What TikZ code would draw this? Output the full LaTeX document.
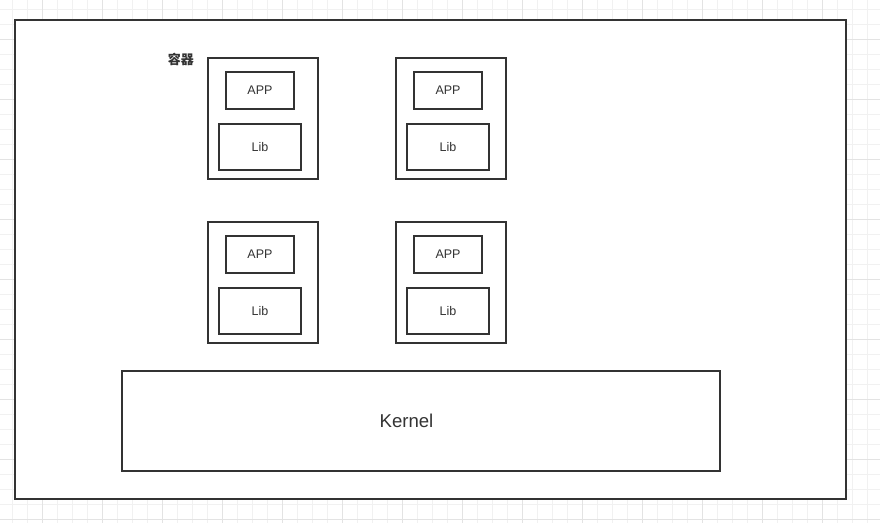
\documentclass[tikz,border=0pt]{standalone}
\usepackage{fontspec}
\setmainfont{Liberation Sans}
\newfontfamily\cjkfont{Noto Sans CJK SC}
\usetikzlibrary{positioning}
\definecolor{linegray}{HTML}{333333}
\definecolor{gridminor}{HTML}{F1F1F1}
\definecolor{gridmajor}{HTML}{E3E3E3}
\tikzset{
	box/.style={draw=linegray, line width=2pt, fill=white, inner sep=0pt, text=linegray},
	container/.style={box, minimum width=110pt, minimum height=121pt},
	appbox/.style={box, minimum width=68pt, minimum height=37pt, font=\fontsize{12.5}{14}\selectfont},
	libbox/.style={box, minimum width=82pt, minimum height=46pt, font=\fontsize{12.5}{14}\selectfont},
	kernelbox/.style={box, minimum width=598pt, minimum height=100pt},
	kerneltext/.style={inner sep=0pt, text=linegray, font=\fontsize{18.6}{21}\selectfont},
	cjklabel/.style={inner sep=0pt, text=linegray, font=\cjkfont\bfseries\fontsize{13}{15}\selectfont}
}
\begin{document}
\begin{tikzpicture}[x=1pt, y=-1pt]
	\useasboundingbox (0,0) rectangle (880,523);
	%Background grid
	\foreach \gx in {12,27,...,877} {
		\draw[gridminor, line width=1pt] (\gx,0) -- (\gx,523);
	}
	\foreach \gy in {9,24,...,519} {
		\draw[gridminor, line width=1pt] (0,\gy) -- (880,\gy);
	}
	\foreach \gx in {42,102,...,822} {
		\draw[gridmajor, line width=1pt] (\gx,0) -- (\gx,523);
	}
	\foreach \gy in {39,99,...,519} {
		\draw[gridmajor, line width=1pt] (0,\gy) -- (880,\gy);
	}
	%Outer frame
	\coordinate (hostNW) at (15,20);
	\coordinate (hostSE) at (846,499);
	\draw[linegray, line width=2pt, fill=white] (hostNW) rectangle (hostSE);
	%Container centers
	\coordinate (center00) at (263,118.5);
	\coordinate (center01) at (451,118.5);
	\coordinate (center10) at (263,282.5);
	\coordinate (center11) at (451,282.5);
	%container00
	\node[container] (cont00) at (center00) {};
	\node[appbox, below=14pt of cont00.north, xshift=-3pt] (app00) {APP};
	\node[libbox, below=13pt of app00] (lib00) {Lib};
	\node[cjklabel, left=13pt of cont00.north west, yshift=-2.5pt] (label00) {容器};
	%container01
	\node[container] (cont01) at (center01) {};
	\node[appbox, below=14pt of cont01.north, xshift=-3pt] (app01) {APP};
	\node[libbox, below=13pt of app01] (lib01) {Lib};
	%container10
	\node[container] (cont10) at (center10) {};
	\node[appbox, below=14pt of cont10.north, xshift=-3pt] (app10) {APP};
	\node[libbox, below=13pt of app10] (lib10) {Lib};
	%container11
	\node[container] (cont11) at (center11) {};
	\node[appbox, below=14pt of cont11.north, xshift=-3pt] (app11) {APP};
	\node[libbox, below=13pt of app11] (lib11) {Lib};
	%Kernel
	\coordinate (centerK) at (421,421);
	\node[kernelbox] (kernel) at (centerK) {};
	\node[kerneltext, xshift=-14.5pt] (kernelLabel) at (kernel.center) {Kernel};
\end{tikzpicture}
\end{document}
